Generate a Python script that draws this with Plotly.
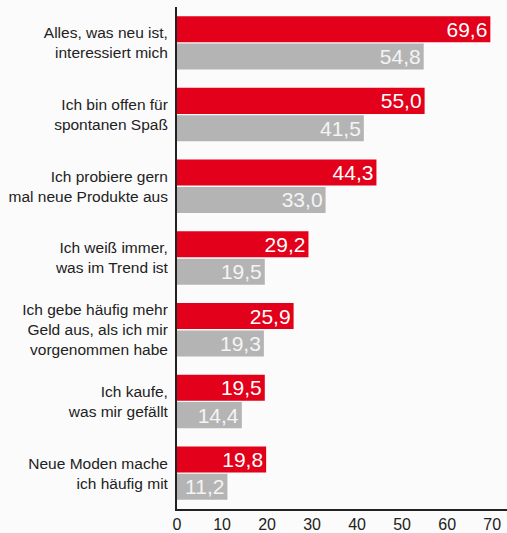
import plotly.graph_objects as go

categories = [
    "Alles, was neu ist,<br>interessiert mich",
    "Ich bin offen für<br>spontanen Spaß",
    "Ich probiere gern<br>mal neue Produkte aus",
    "Ich weiß immer,<br>was im Trend ist",
    "Ich gebe häufig mehr<br>Geld aus, als ich mir<br>vorgenommen habe",
    "Ich kaufe,<br>was mir gefällt",
    "Neue Moden mache<br>ich häufig mit",
]
red_values = [69.6, 55.0, 44.3, 29.2, 25.9, 19.5, 19.8]
gray_values = [54.8, 41.5, 33.0, 19.5, 19.3, 14.4, 11.2]
x_ticks = [0, 10, 20, 30, 40, 50, 60, 70]

fig = go.Figure()
fig.add_trace(go.Bar(
    y=categories, x=red_values, orientation="h", name="A",
    marker=dict(color="#e2001a", line=dict(width=0)),
    texttemplate="%{x:.1f}", textposition="inside", insidetextanchor="end",
    insidetextfont=dict(color="#ffffff", size=21, family="Liberation Sans, Arial, sans-serif"),
    constraintext="none", cliponaxis=False,
))
fig.add_trace(go.Bar(
    y=categories, x=gray_values, orientation="h", name="B",
    marker=dict(color="#b4b4b5", line=dict(width=0)),
    texttemplate="%{x:.1f}", textposition="inside", insidetextanchor="end",
    insidetextfont=dict(color="#f4f4f4", size=21, family="Liberation Sans, Arial, sans-serif"),
    constraintext="none", cliponaxis=False,
))

fig.update_layout(
    width=507, height=533,
    margin=dict(l=177, r=0, t=7, b=24, autoexpand=False),
    barmode="group", bargap=0.236, bargroupgap=0.05,
    separators=",.",
    showlegend=False,
    paper_bgcolor="#fbfbfb", plot_bgcolor="#fbfbfb",
    font=dict(family="Liberation Sans, Arial, sans-serif", color="#222222"),
    xaxis=dict(
        range=[0, 73.3], tickvals=x_ticks, showgrid=False, zeroline=False,
        showline=True, linecolor="#222222", linewidth=2, automargin=False,
        ticks="", tickfont=dict(size=16, color="#222222"),
    ),
    yaxis=dict(
        autorange="reversed", showgrid=False, zeroline=False,
        showline=True, linecolor="#222222", linewidth=2, automargin=False,
        ticks="", ticklabelstandoff=4, tickfont=dict(size=15.5, color="#222222"),
    ),
)

fig.write_html(
    "out.html",
    config={"displayModeBar": False},
    post_script="document.body.style.margin='0';document.body.style.padding='0';document.body.style.background='#fbfbfb';",
)
